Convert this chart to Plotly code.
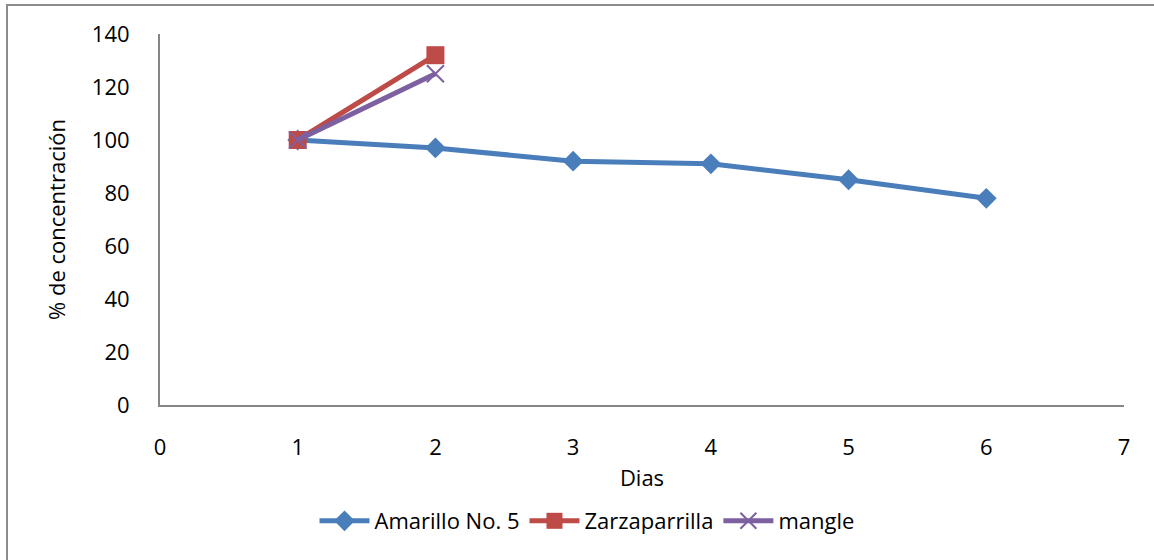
import plotly.graph_objects as go

# Días de medición y % de concentración de cada colorante
dias_amarillo = [1, 2, 3, 4, 5, 6]
amarillo = [100, 97, 92, 91, 85, 78]

dias_zarza = [1, 2]
zarzaparrilla = [100, 132]

dias_mangle = [1, 2]
mangle = [100, 125]

x_ticks = [0, 1, 2, 3, 4, 5, 6, 7]
y_ticks = [0, 20, 40, 60, 80, 100, 120, 140]

FONT = "Open Sans, Noto Sans, sans-serif"

fig = go.Figure()
fig.add_trace(go.Scatter(
    x=dias_amarillo, y=amarillo, name="Amarillo No. 5", mode="lines+markers",
    line=dict(color="#4A7EBB", width=5),
    marker=dict(symbol="diamond", size=16, color="#4A7EBB"),
))
fig.add_trace(go.Scatter(
    x=dias_zarza, y=zarzaparrilla, name="Zarzaparrilla", mode="lines+markers",
    line=dict(color="#BE4B48", width=5),
    marker=dict(symbol="square", size=18, color="#BE4B48"),
))
fig.add_trace(go.Scatter(
    x=dias_mangle, y=mangle, name="mangle", mode="lines+markers",
    line=dict(color="#7D60A0", width=5),
    marker=dict(symbol="x-thin", size=17, line=dict(color="#7D60A0", width=2)),
))

L, R, T, B = 160, 30, 34, 155
W, H = 1154, 560
pw, ph = W - L - R, H - T - B

def px(xp):
    return (xp - L) / pw

def py(yp):
    return (H - B - yp) / ph

# marco exterior del gráfico
fig.add_shape(type="rect", xref="paper", yref="paper",
              x0=px(7), x1=px(1162), y0=py(568), y1=py(5),
              line=dict(color="#8C8C8C", width=2), layer="below")

fig.update_layout(
    width=W, height=H,
    margin=dict(l=L, r=R, t=T, b=B),
    paper_bgcolor="white", plot_bgcolor="white",
    font=dict(family=FONT, size=22, color="#000000"),
    showlegend=True,
    legend=dict(orientation="h", x=px(587), y=py(521), xanchor="center", yanchor="middle",
                font=dict(size=22), itemwidth=50),
    xaxis=dict(
        range=[0, 7], tickvals=x_ticks, ticktext=[str(v) for v in x_ticks],
        showgrid=False, zeroline=False, showline=True, linecolor="#868686", linewidth=2,
        ticks="", ticklabelstandoff=22,
        title=dict(text="Dias", standoff=10, font=dict(size=22)),
    ),
    yaxis=dict(
        range=[0, 140], tickvals=y_ticks, ticktext=[str(v) for v in y_ticks],
        showgrid=False, zeroline=False, showline=True, linecolor="#868686", linewidth=2,
        ticks="", ticklabelstandoff=24,
        title=dict(text="% de concentración", standoff=20, font=dict(size=22)),
    ),
)

fig.write_html("out.html")
